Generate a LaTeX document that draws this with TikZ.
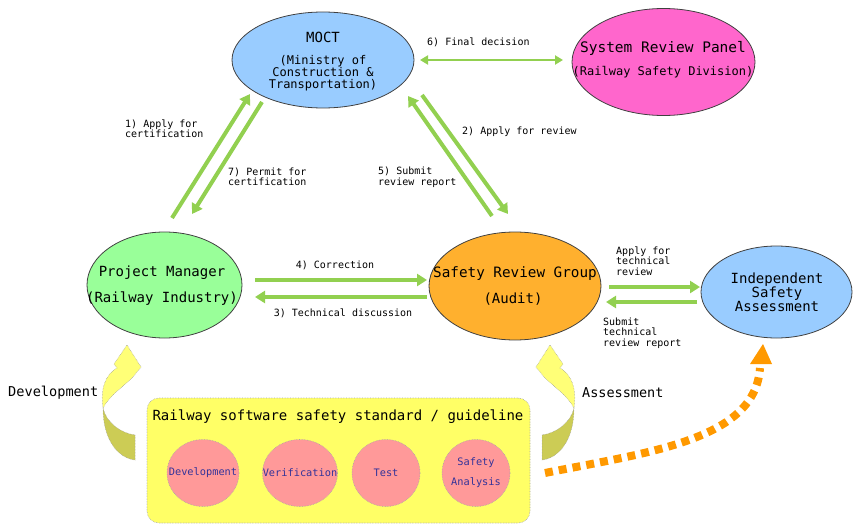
\documentclass[tikz,border=0pt]{standalone}
\usepackage{fontspec}
\setmainfont{DejaVu Sans Mono}
\usetikzlibrary{arrows.meta,shapes.geometric}
\definecolor{edgeC}{HTML}{404040}
\definecolor{blueF}{HTML}{99CCFF}
\definecolor{pinkF}{HTML}{FF66CC}
\definecolor{greenF}{HTML}{99FF99}
\definecolor{orangeF}{HTML}{FFB02E}
\definecolor{arrowGreen}{HTML}{92D050}
\definecolor{boxY}{HTML}{FFFF66}
\definecolor{circP}{HTML}{FF9999}
\definecolor{circT}{HTML}{333399}
\definecolor{orangeC}{HTML}{FF9900}
\definecolor{curveLight}{HTML}{FFFF77}
\definecolor{curveDark}{HTML}{CCCC55}
\newcommand\myfs[2]{\fontsize{#1}{#2}\selectfont}
\begin{document}
\begin{tikzpicture}[x=1pt,y=-1pt,
  ell/.style={ellipse, draw=edgeC, line width=0.8pt, inner sep=0pt},
  circ/.style={ellipse, draw=gray!70, densely dotted, line width=0.6pt, fill=circP, inner sep=0pt},
  ctext/.style={font=\myfs{10.3}{20}, text=circT, align=center, inner sep=0pt},
  garr/.style={draw=arrowGreen, line width=4pt, -{Triangle[length=10pt,width=12pt]}},
  lab/.style={font=\myfs{10}{10.5}, inner sep=0pt, align=left, anchor=west},
  big/.style={font=\myfs{14}{14}, inner sep=0pt, align=center},
  carrow/.pic={
    \filldraw[fill=curveDark, draw=gray!80, densely dotted, line width=0.5pt]
      (135,435) .. controls (120,433) and (106,422) .. (103,408)
      .. controls (103,440) and (118,458) .. (135,460) -- cycle;
    \filldraw[fill=curveLight, draw=gray!80, densely dotted, line width=0.5pt]
      (103,408) .. controls (100,388) and (106,374) .. (117,368)
      -- (114,364) -- (127,345) -- (141,367) -- (132,378)
      .. controls (124,386) and (110,395) .. (103,408) -- cycle;
  }
]
\useasboundingbox (0,0) rectangle (853,532);

% ellipses
\node[ell, fill=blueF, minimum width=182pt, minimum height=96pt] (moct) at (323,60) {};
\node[ell, fill=pinkF, minimum width=183pt, minimum height=107pt] (srp) at (663.5,62) {};
\node[ell, fill=greenF, minimum width=155pt, minimum height=106pt] (pm) at (164.5,285) {};
\node[ell, fill=orangeF, minimum width=172pt, minimum height=108pt] (srg) at (515,286) {};
\node[ell, fill=blueF, minimum width=151pt, minimum height=92pt] (isa) at (776.5,292) {};

% ellipse texts
\node[big] (moctT) at (323,37) {MOCT};
\node[font=\myfs{12}{12}, align=center, inner sep=0pt] (moctS) at (323,73) {(Ministry of\\Construction \&\\Transportation)};
\node[font=\myfs{14.5}{15}, inner sep=0pt] (srpT) at (663,48) {System Review Panel};
\node[font=\myfs{12}{12}, inner sep=0pt] (srpS) at (663,72) {(Railway Safety Division)};
\node[big] (pmT) at (162,273) {Project Manager};
\node[big] (pmS) at (162,299) {(Railway Industry)};
\node[font=\myfs{14.3}{14}, inner sep=0pt] (srgT) at (515,274) {Safety Review Group};
\node[big] (srgS) at (513,299) {(Audit)};
\node[big] (isaT) at (777,292) {Independent\\Safety\\Assessment};

% connector end points
\coordinate (a1s) at (172,218); \coordinate (a1e) at (250,94);
\coordinate (a7s) at (262,102); \coordinate (a7e) at (192,214);
\coordinate (a2s) at (422,95);  \coordinate (a2e) at (508,214);
\coordinate (a5s) at (492,216); \coordinate (a5e) at (408,96);
\coordinate (a6s) at (420,60);  \coordinate (a6e) at (563,60);
\coordinate (a4s) at (255,280); \coordinate (a4e) at (427,280);
\coordinate (a3s) at (427,297); \coordinate (a3e) at (255,297);
\coordinate (ats) at (609,287); \coordinate (ate) at (700,287);
\coordinate (ass) at (697,302); \coordinate (ase) at (606,302);

% green arrows
\draw[garr] (a1s) -- (a1e);
\draw[garr] (a7s) -- (a7e);
\draw[garr] (a2s) -- (a2e);
\draw[garr] (a5s) -- (a5e);
\draw[draw=arrowGreen, line width=2.5pt, {Triangle[length=8pt,width=9pt]}-{Triangle[length=8pt,width=9pt]}] (a6s) -- (a6e);
\draw[garr] (a4s) -- (a4e);
\draw[garr] (a3s) -- (a3e);
\draw[garr] (ats) -- (ate);
\draw[garr] (ass) -- (ase);

% labels
\node[lab] (l1) at (125,128.5) {1) Apply for\\certification};
\node[lab] (l7) at (228,177) {7) Permit for\\certification};
\node[lab] (l5) at (378,177) {5) Submit\\review report};
\node[lab] (l2) at (462,132) {2) Apply for review};
\node[lab] (l6) at (427,42) {6) Final decision};
\node[lab, anchor=center] (l4) at (335,265) {4) Correction};
\node[lab, anchor=center] (l3) at (343,313) {3) Technical discussion};
\node[lab] (lat) at (616,261) {Apply for\\technical\\review};
\node[lab] (las) at (603,333) {Submit\\technical\\review report};

% standard box
\node[draw=gray!70, densely dotted, line width=0.6pt, fill=boxY, rounded corners=12pt,
      minimum width=383pt, minimum height=125pt, inner sep=0pt] (box) at (338.5,460.5) {};
\node[big] (boxT) at (338,417) {Railway software safety standard / guideline};
\node[circ, minimum width=72pt, minimum height=67pt] (dev) at (203,473) {};
\node[circ, minimum width=75pt, minimum height=67pt] (ver) at (300,473) {};
\node[circ, minimum width=68pt, minimum height=67pt] (tst) at (386,473) {};
\node[circ, minimum width=68pt, minimum height=67pt] (saf) at (476,473) {};
\node[ctext] at (dev) {Development};
\node[ctext] at (ver) {Verification};
\node[ctext] at (tst) {Test};
\node[ctext] at (saf) {Safety\\Analysis};

% curved arrows
\pic at (0,0) {carrow};
\pic[xscale=-1] at (677,0) {carrow};
\node[font=\myfs{13.6}{14}, inner sep=0pt, anchor=west] (ldev) at (8,393) {Development};
\node[font=\myfs{13.5}{14}, inner sep=0pt, anchor=west] (lass) at (582,393) {Assessment};

% orange dotted arrow
\coordinate (os) at (545,473);
\coordinate (oe) at (760,368);
\draw[orangeC, line width=8pt, dash pattern=on 8pt off 6pt] (os) .. controls (650,452) and (755,440) .. (oe);
\fill[orangeC] (763,344) -- (750,364) -- (772,364) -- cycle;
\end{tikzpicture}
\end{document}
